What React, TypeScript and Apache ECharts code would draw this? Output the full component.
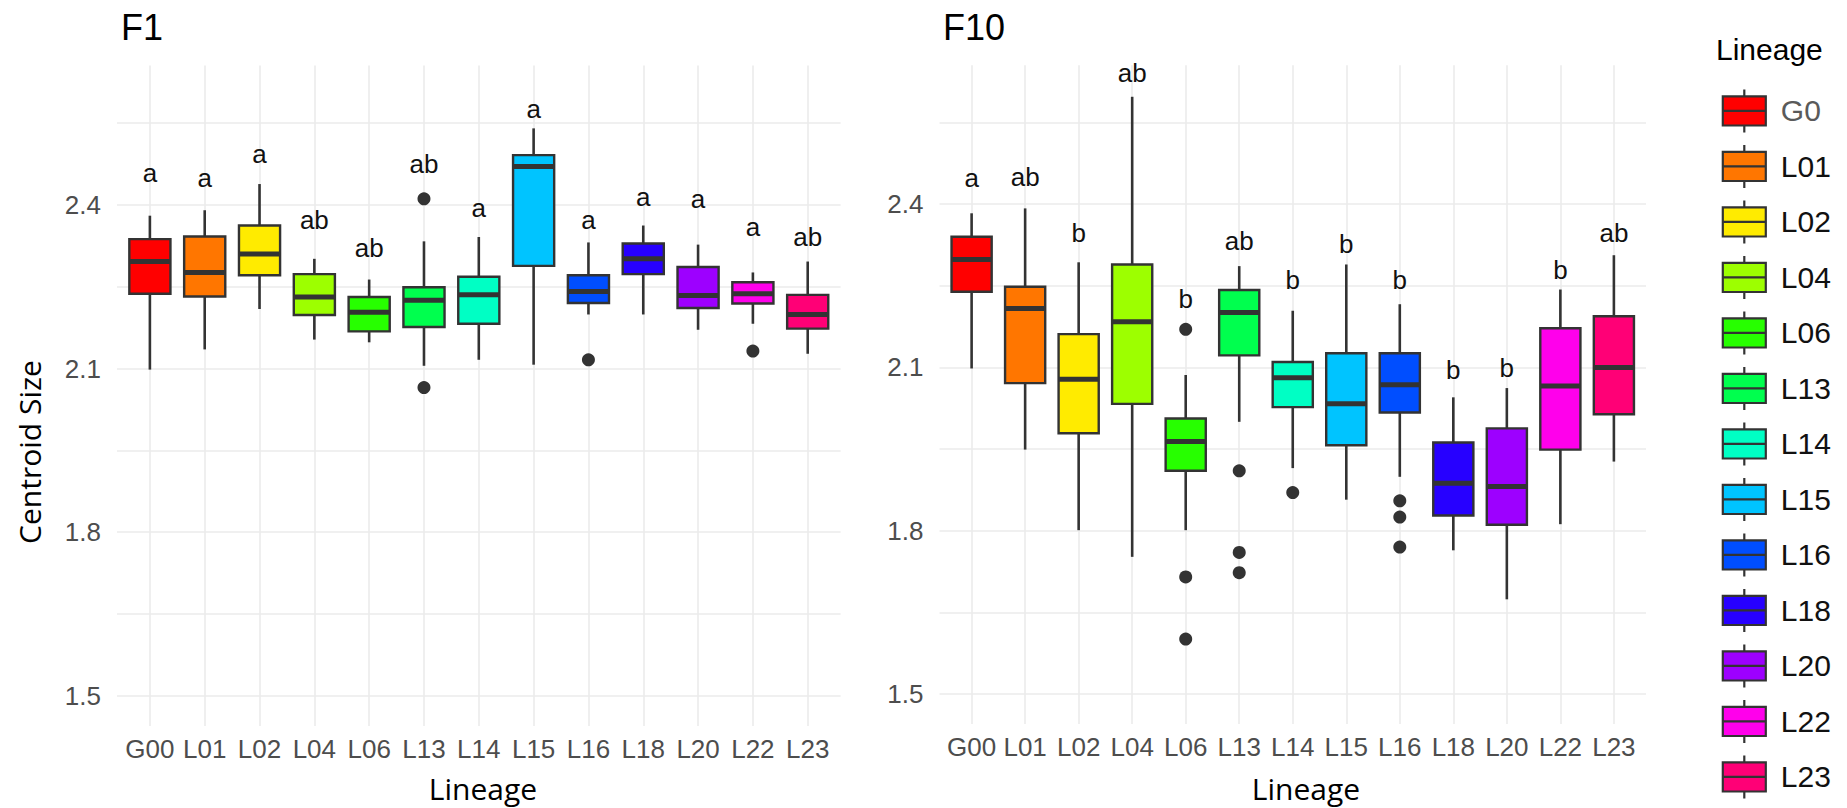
import React, { useEffect, useRef } from 'react';
import * as echarts from 'echarts';

// ---------- data ----------
const categories = ['G00', 'L01', 'L02', 'L04', 'L06', 'L13', 'L14', 'L15', 'L16', 'L18', 'L20', 'L22', 'L23'];
const legendNames = ['G0', 'L01', 'L02', 'L04', 'L06', 'L13', 'L14', 'L15', 'L16', 'L18', 'L20', 'L22', 'L23'];
const colors = ['#FF0000', '#FF7600', '#FFEB00', '#9DFF00', '#27FF00', '#00FF4E', '#00FFC4', '#00C4FF', '#004EFF', '#2700FF', '#9D00FF', '#FF00EB', '#FF0076'];

const yTickLabels = [1.5, 1.8, 2.1, 2.4];
const yGridValues = [1.5, 1.65, 1.8, 1.95, 2.1, 2.25, 2.4, 2.55];

// F1 panel
const f1Min = [2.098, 2.135, 2.209, 2.153, 2.148, 2.105, 2.116, 2.107, 2.199, 2.199, 2.171, 2.182, 2.127];
const f1Q1 = [2.237, 2.232, 2.271, 2.198, 2.168, 2.176, 2.182, 2.288, 2.220, 2.273, 2.211, 2.219, 2.173];
const f1Median = [2.296, 2.276, 2.310, 2.231, 2.203, 2.225, 2.235, 2.470, 2.241, 2.301, 2.234, 2.237, 2.199];
const f1Q3 = [2.337, 2.342, 2.362, 2.273, 2.231, 2.249, 2.268, 2.491, 2.271, 2.329, 2.286, 2.258, 2.235];
const f1Max = [2.380, 2.390, 2.438, 2.301, 2.263, 2.333, 2.341, 2.540, 2.331, 2.362, 2.327, 2.276, 2.296];
const f1Outliers: number[][] = [[], [], [], [], [], [2.411, 2.065], [], [], [2.116], [], [], [2.132], []];
const f1Letters = ['a', 'a', 'a', 'ab', 'ab', 'ab', 'a', 'a', 'a', 'a', 'a', 'a', 'ab'];
const f1LetterY = [2.459, 2.449, 2.493, 2.373, 2.321, 2.474, 2.394, 2.575, 2.373, 2.414, 2.410, 2.360, 2.341];

// F10 panel
const f10Min = [2.098, 1.949, 1.801, 1.752, 1.801, 2.000, 1.915, 1.857, 1.899, 1.764, 1.674, 1.812, 1.927];
const f10Q1 = [2.239, 2.071, 1.979, 2.033, 1.910, 2.122, 2.027, 1.957, 2.017, 1.828, 1.811, 1.949, 2.014];
const f10Median = [2.298, 2.208, 2.078, 2.184, 1.964, 2.201, 2.081, 2.033, 2.068, 1.887, 1.881, 2.066, 2.100];
const f10Q3 = [2.340, 2.248, 2.161, 2.289, 2.006, 2.242, 2.110, 2.126, 2.126, 1.962, 1.988, 2.172, 2.194];
const f10Max = [2.383, 2.392, 2.293, 2.597, 2.086, 2.286, 2.204, 2.289, 2.216, 2.045, 2.062, 2.243, 2.306];
const f10Outliers: number[][] = [[], [], [], [], [2.170, 1.715, 1.601], [1.910, 1.760, 1.723], [1.870], [], [1.855, 1.825, 1.770], [], [], [], []];
const f10Letters = ['a', 'ab', 'b', 'ab', 'b', 'ab', 'b', 'b', 'b', 'b', 'b', 'b', 'ab'];
const f10LetterY = [2.448, 2.450, 2.346, 2.640, 2.225, 2.333, 2.260, 2.327, 2.260, 2.095, 2.098, 2.278, 2.346];

// ---------- styling ----------
const ARIAL = "'Liberation Sans', Arial, sans-serif";
const TITLEFONT = "'Open Sans', sans-serif";
const GRID_COLOR = '#ebebeb';
const DARK = '#333333';

function panelSeries(
  idx: number,
  mins: number[], q1s: number[], meds: number[], q3s: number[], maxs: number[],
  outs: number[][], letters: string[], letterY: number[]
) {
  const boxData = categories.map((_, i) => [i, mins[i], q1s[i], meds[i], q3s[i], maxs[i]]);
  const outData: number[][] = [];
  outs.forEach((arr, i) => arr.forEach((v) => outData.push([i, v])));
  const letterData = categories.map((_, i) => [i, letterY[i]]);
  return [
    {
      type: 'custom',
      xAxisIndex: idx,
      yAxisIndex: idx,
      z: 2,
      silent: true,
      encode: { x: 0, y: [1, 2, 3, 4, 5] },
      data: boxData,
      renderItem: (params: any, api: any) => {
        const x = api.value(0);
        const lo = api.coord([x, api.value(1)]);
        const q1 = api.coord([x, api.value(2)]);
        const md = api.coord([x, api.value(3)]);
        const q3 = api.coord([x, api.value(4)]);
        const hi = api.coord([x, api.value(5)]);
        const w = api.size([0.75, 0])[0];
        const color = colors[params.dataIndex];
        return {
          type: 'group',
          children: [
            { type: 'line', shape: { x1: hi[0], y1: hi[1], x2: q3[0], y2: q3[1] }, style: { stroke: DARK, lineWidth: 2.6 } },
            { type: 'line', shape: { x1: q1[0], y1: q1[1], x2: lo[0], y2: lo[1] }, style: { stroke: DARK, lineWidth: 2.6 } },
            { type: 'rect', shape: { x: q3[0] - w / 2, y: q3[1], width: w, height: q1[1] - q3[1] }, style: { fill: color, stroke: DARK, lineWidth: 2.4 } },
            { type: 'line', shape: { x1: md[0] - w / 2, y1: md[1], x2: md[0] + w / 2, y2: md[1] }, style: { stroke: DARK, lineWidth: 5 } },
          ],
        };
      },
    },
    {
      type: 'scatter',
      xAxisIndex: idx,
      yAxisIndex: idx,
      z: 3,
      silent: true,
      symbolSize: 13,
      itemStyle: { color: DARK, opacity: 1 },
      data: outData,
    },
    {
      type: 'scatter',
      xAxisIndex: idx,
      yAxisIndex: idx,
      z: 4,
      silent: true,
      symbolSize: 1,
      itemStyle: { color: 'rgba(0,0,0,0)', opacity: 1 },
      label: {
        show: true,
        position: 'inside',
        formatter: (p: any) => letters[p.dataIndex],
        fontFamily: ARIAL,
        fontSize: 26,
        color: '#111111',
        opacity: 1,
      },
      data: letterData,
    },
  ];
}

function makeXAxis(idx: number) {
  return {
    type: 'value',
    gridIndex: idx,
    min: -0.6,
    max: 12.6,
    axisLine: { show: false },
    axisTick: { show: false, customValues: categories.map((_, i) => i) },
    axisLabel: {
      customValues: categories.map((_, i) => i),
      formatter: (v: number) => categories[Math.round(v)] ?? '',
      color: '#4d4d4d',
      fontFamily: ARIAL,
      fontSize: 26,
      margin: 10,
    },
    splitLine: { show: true, lineStyle: { color: GRID_COLOR, width: 1.6 } },
  };
}

function makeYAxis(idx: number) {
  return {
    type: 'value',
    gridIndex: idx,
    min: 1.445,
    max: 2.655,
    axisLine: { show: false },
    axisTick: { show: false, customValues: yGridValues },
    axisLabel: {
      customValues: yTickLabels,
      formatter: (v: number) => v.toFixed(1),
      color: '#4d4d4d',
      fontFamily: ARIAL,
      fontSize: 26,
      margin: 16,
    },
    splitLine: { show: true, lineStyle: { color: GRID_COLOR, width: 1.6 } },
  };
}

export default function App() {
  const ref = useRef<HTMLDivElement>(null);
  useEffect(() => {
    document.body.style.margin = '0';
    if (!ref.current) return;
    const chart = echarts.init(ref.current, undefined, { renderer: 'svg' });
    const legendSeries = legendNames.map((n, i) => ({
      type: 'scatter',
      name: n,
      xAxisIndex: 0,
      yAxisIndex: 0,
      data: [],
      itemStyle: { color: colors[i], borderColor: DARK, borderWidth: 2.2, opacity: 1 },
    }));
    const option: any = {
      animation: false,
      backgroundColor: '#ffffff',
      title: [
        { text: 'F1', left: 116, top: 4, textStyle: { fontFamily: ARIAL, fontSize: 36, fontWeight: 'normal', color: '#000' } },
        { text: 'F10', left: 938, top: 4, textStyle: { fontFamily: ARIAL, fontSize: 36, fontWeight: 'normal', color: '#000' } },
        { text: 'Lineage', left: 1711, top: 29, textStyle: { fontFamily: ARIAL, fontSize: 30, fontWeight: 'normal', color: '#000' } },
      ],
      grid: [
        { left: 117, top: 65.6, width: 723.6, height: 660.4 },
        { left: 939.5, top: 65.2, width: 706.5, height: 658.8 },
      ],
      xAxis: [makeXAxis(0), makeXAxis(1)],
      yAxis: [makeYAxis(0), makeYAxis(1)],
      legend: {
        orient: 'vertical',
        left: 1716.7,
        top: 83.3,
        itemWidth: 43,
        itemHeight: 43,
        itemGap: 10.3,
        selectedMode: false,
        icon: 'path://M0,16 L100,16 L100,84 L0,84 Z M0,50 L100,50 M50,0 L50,16 M50,84 L50,100',
        itemStyle: { borderColor: DARK, borderWidth: 2.2, opacity: 1 },
        textStyle: { fontFamily: ARIAL, fontSize: 30, color: '#111111', padding: [0, 0, 0, 10] },
        data: legendNames.map((n, i) => (i === 0 ? { name: n, textStyle: { color: '#5a5a5a' } } : { name: n })),
      },
      graphic: [
        {
          type: 'text',
          x: 29,
          y: 452,
          rotation: Math.PI / 2,
          style: { text: 'Centroid Size', align: 'center', verticalAlign: 'middle', font: `30px ${TITLEFONT}`, fill: '#000' },
        },
        {
          type: 'text',
          x: 483,
          y: 788,
          style: { text: 'Lineage', align: 'center', verticalAlign: 'middle', font: `30px ${TITLEFONT}`, fill: '#000' },
        },
        {
          type: 'text',
          x: 1306,
          y: 788,
          style: { text: 'Lineage', align: 'center', verticalAlign: 'middle', font: `30px ${TITLEFONT}`, fill: '#000' },
        },
      ],
      series: [
        ...panelSeries(0, f1Min, f1Q1, f1Median, f1Q3, f1Max, f1Outliers, f1Letters, f1LetterY),
        ...panelSeries(1, f10Min, f10Q1, f10Median, f10Q3, f10Max, f10Outliers, f10Letters, f10LetterY),
        ...legendSeries,
      ],
    };
    chart.setOption(option);
    return () => chart.dispose();
  }, []);
  return <div ref={ref} style={{ width: 1847, height: 808 }} />;
}
